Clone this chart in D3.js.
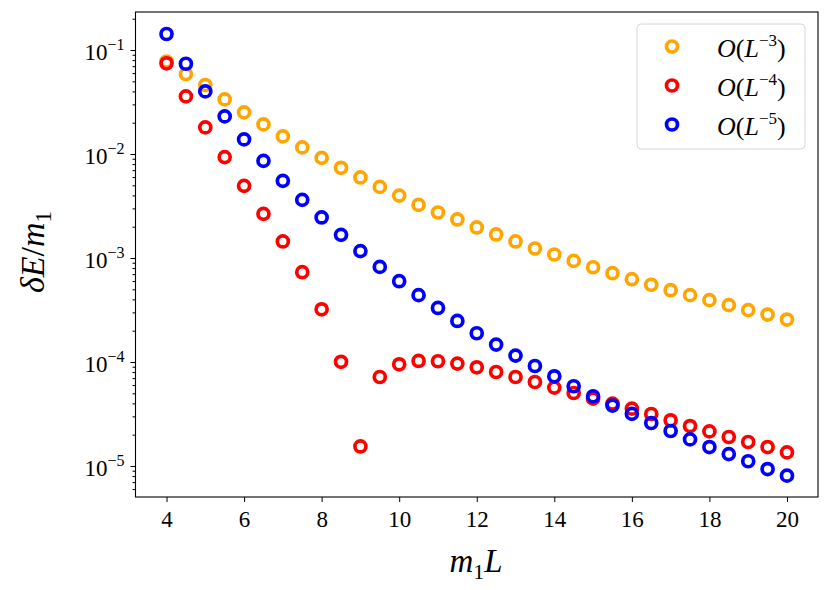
<!DOCTYPE html>
<html>
<head>
<meta charset="utf-8">
<script src="https://cdn.jsdelivr.net/npm/d3@7"></script>
<style>
  body { margin: 0; background: #fff; }
  svg { font-family: "Liberation Serif", "DejaVu Serif", serif; }
  .tick text { font-family: "Liberation Serif", "DejaVu Serif", serif; font-size: 23px; fill: #000; }
  .tick line { stroke: #000; stroke-width: 1; }
</style>
</head>
<body>
<svg width="830" height="590"></svg>
<script>
var svg = d3.select('svg');

// values
var mL = [4, 4.5, 5, 5.5, 6, 6.5, 7, 7.5, 8, 8.5, 9, 9.5, 10, 10.5, 11, 11.5, 12,
          12.5, 13, 13.5, 14, 14.5, 15, 15.5, 16, 16.5, 17, 17.5, 18, 18.5, 19, 19.5, 20];

var orderL3 = [0.0775, 0.0587, 0.0461, 0.0335, 0.02515, 0.01927, 0.01477, 0.01157, 0.00919,
               0.00737, 0.00595, 0.00483, 0.00398, 0.00324, 0.00274, 0.002347, 0.001966,
               0.001684, 0.001442, 0.001234, 0.00108, 0.000938, 0.000815, 0.000714, 0.000625,
               0.000553, 0.00049, 0.000439, 0.000393, 0.000352, 0.000315, 0.000286, 0.000256];

var orderL4 = [0.0745, 0.0358, 0.01803, 0.00934, 0.00494, 0.002657, 0.001442, 0.00073, 0.000321,
               0.0001004, 0.0000154, 0.0000717, 0.000095, 0.0001023, 0.0001016, 0.0000965, 0.0000889,
               0.0000801, 0.0000717, 0.0000642, 0.0000567, 0.0000503, 0.0000444, 0.0000398, 0.0000356,
               0.0000316, 0.0000275, 0.0000242, 0.0000215, 0.000019, 0.000017, 0.0000152, 0.0000135];

var orderL5 = [0.1426, 0.0738, 0.04, 0.023, 0.01382, 0.0086, 0.00552, 0.003624, 0.002454,
               0.001669, 0.001165, 0.000821, 0.000598, 0.000439, 0.000331, 0.000248, 0.000189,
               0.000147, 0.0001152, 0.0000915, 0.0000728, 0.0000584, 0.0000468, 0.0000381, 0.0000317,
               0.0000259, 0.0000217, 0.000018, 0.0000152, 0.000013, 0.0000111, 0.00000934, 0.00000807];

var seriesNames = ['3', '4', '5'];
var seriesColors = ['orange', 'red', 'blue'];
var seriesValues = [orderL3, orderL4, orderL5];

var xTicks = [4, 6, 8, 10, 12, 14, 16, 18, 20];
var yExponents = [-1, -2, -3, -4, -5];

var margin = { top: 12, right: 12, bottom: 93, left: 135.5 };
var w = 830 - margin.left - margin.right;
var h = 590 - margin.top - margin.bottom;

var xScale = d3.scaleLinear().domain([3.2, 20.8]).range([0, w]);
var yScale = d3.scaleLog().domain([Math.pow(10, -5.2984), Math.pow(10, -0.6343)]).range([h, 0]);

var g = svg.append('g')
    .attr('transform', 'translate(' + margin.left + ',' + margin.top + ')');

// x axis
var xAxis = g.append('g')
    .attr('transform', 'translate(0,' + h + ')')
    .call(d3.axisBottom(xScale).tickValues(xTicks).tickSize(5).tickSizeOuter(0).tickPadding(9));
xAxis.select('.domain').remove();
xAxis.selectAll('text').attr('dy', '0.68em');

// y axis, major ticks
var yMajor = yExponents.map(function (e) { return Math.pow(10, e); });
var yAxis = g.append('g')
    .call(d3.axisLeft(yScale).tickValues(yMajor).tickSize(5).tickSizeOuter(0).tickFormat(''));
yAxis.select('.domain').remove();
yAxis.selectAll('.tick').each(function (d, i) {
    var t = d3.select(this).append('text')
        .attr('x', -11)
        .attr('y', 9.5)
        .attr('text-anchor', 'end');
    t.append('tspan').text('10');
    t.append('tspan')
        .attr('dy', -10)
        .style('font-size', '16px')
        .text('\u2212' + (-yExponents[i]));
});

// y axis, minor ticks
var yMinor = [];
[-6, -5, -4, -3, -2, -1].forEach(function (e) {
    for (var k = 2; k <= 9; k++) {
        var v = k * Math.pow(10, e);
        if (v >= yScale.domain()[0] && v <= yScale.domain()[1]) yMinor.push(v);
    }
});
g.append('g')
    .call(d3.axisLeft(yScale).tickValues(yMinor).tickSize(3).tickSizeOuter(0).tickFormat(''))
    .select('.domain').remove();

// frame
g.append('rect')
    .attr('width', w)
    .attr('height', h)
    .attr('fill', 'none')
    .attr('stroke', '#000')
    .attr('stroke-width', 1.1);

// points
g.append('clipPath').attr('id', 'clip')
    .append('rect').attr('width', w).attr('height', h);

var plot = g.append('g').attr('clip-path', 'url(#clip)');
seriesValues.forEach(function (vals, s) {
    plot.append('g')
        .selectAll('circle')
        .data(mL)
        .enter()
        .append('circle')
        .attr('cx', function (d) { return xScale(d); })
        .attr('cy', function (d, i) { return yScale(vals[i]); })
        .attr('r', 5.5)
        .attr('fill', 'none')
        .attr('stroke', seriesColors[s])
        .attr('stroke-width', 3.7);
});

// axis labels
svg.append('text')
    .attr('x', 476)
    .attr('y', 572)
    .attr('text-anchor', 'middle')
    .style('font-size', '33px')
    .style('font-style', 'italic')
    .call(function (t) {
        t.append('tspan').text('m');
        t.append('tspan').attr('dy', 7).style('font-size', '22px').style('font-style', 'normal').text('1');
        t.append('tspan').attr('dy', -7).text('L');
    });

svg.append('text')
    .attr('transform', 'translate(44,252) rotate(-90)')
    .attr('text-anchor', 'middle')
    .style('font-size', '34px')
    .style('font-style', 'italic')
    .call(function (t) {
        t.append('tspan').text('\u03b4E');
        t.append('tspan').style('font-style', 'normal').text('/');
        t.append('tspan').text('m');
        t.append('tspan').attr('dy', 7).style('font-size', '23px').style('font-style', 'normal').text('1');
    });

// legend
var legend = svg.append('g').attr('transform', 'translate(637,24)');
legend.append('rect')
    .attr('width', 168)
    .attr('height', 125)
    .attr('rx', 4)
    .attr('fill', '#fff')
    .attr('fill-opacity', 0.8)
    .attr('stroke', '#d6d6d6')
    .attr('stroke-width', 1);

var items = legend.selectAll('.item')
    .data(seriesNames)
    .enter()
    .append('g')
    .attr('class', 'item')
    .attr('transform', function (d, i) { return 'translate(0,' + (22.5 + i * 39) + ')'; });

items.append('circle')
    .attr('cx', 35)
    .attr('r', 5.5)
    .attr('fill', 'none')
    .attr('stroke', function (d, i) { return seriesColors[i]; })
    .attr('stroke-width', 3.7);

items.append('text')
    .attr('x', 80)
    .attr('y', 10)
    .style('font-size', '26px')
    .each(function (d) {
        var t = d3.select(this);
        t.append('tspan').style('font-style', 'italic').text('O');
        t.append('tspan').text('(');
        t.append('tspan').style('font-style', 'italic').text('L');
        t.append('tspan').attr('dy', -11).style('font-size', '17px').text('\u2212' + d);
        t.append('tspan').attr('dy', 11).text(')');
    });
</script>
</body>
</html>
